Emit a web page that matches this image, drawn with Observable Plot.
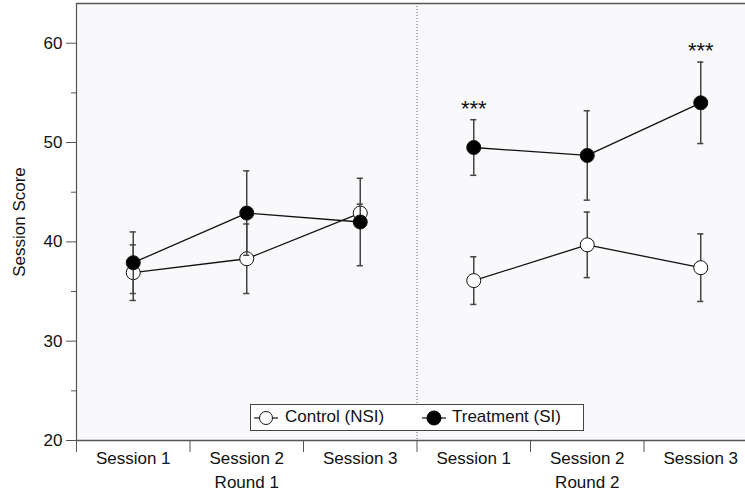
<!DOCTYPE html>
<html><head><meta charset="utf-8">
<script src="https://cdn.jsdelivr.net/npm/d3@7"></script>
<script src="https://cdn.jsdelivr.net/npm/@observablehq/plot@0.6"></script>
<style>
body{margin:0;background:#fff;font-family:"Liberation Sans",Arial,sans-serif;}
#wrap{position:relative;width:745px;height:498px;overflow:hidden;}
#legend{position:absolute;left:250px;top:404px;width:332px;height:25px;border:1px solid #444;background:#fff;font-size:17px;color:#111;}
#legend .sym{position:absolute;top:4px;}
#legend .lab{position:absolute;top:2px;line-height:20px;white-space:nowrap;}
</style></head><body>
<div id="wrap"><div id="chart"></div>
<div id="legend">
  <svg class="sym" style="left:3px" width="24" height="18"><line x1="0" y1="9" x2="24" y2="9" stroke="#111" stroke-width="1.2"/><circle cx="12" cy="9" r="6.5" fill="#fff" stroke="#111" stroke-width="1"/></svg>
  <span class="lab" style="left:34px">Control (NSI)</span>
  <svg class="sym" style="left:171px" width="24" height="18"><line x1="0" y1="9" x2="24" y2="9" stroke="#111" stroke-width="1.2"/><circle cx="12" cy="9" r="7" fill="#000" stroke="#000" stroke-width="1"/></svg>
  <span class="lab" style="left:201px">Treatment (SI)</span>
</div></div>
<script>
const sessions = ["Session 1","Session 2","Session 3","Session 1","Session 2","Session 3"];
const rounds = ["Round 1","Round 2"];
const controlMean = [36.9, 38.3, 42.9, 36.1, 39.7, 37.4];
const controlErr  = [2.8, 3.5, 0.9, 2.4, 3.3, 3.4];
const treatMean   = [37.9, 42.9, 42.0, 49.5, 48.7, 54.0];
const treatErr    = [3.1, 4.25, 4.4, 2.8, 4.5, 4.1];
const significance = ["", "", "", "***", "", "***"];
const yTicks = [20, 30, 40, 50, 60];
const yMinor = [25, 35, 45, 55];

const rows = sessions.map((s, i) => ({
  pos: i + 0.5, round: rounds[Math.floor(i / 3)],
  c: controlMean[i], ce: controlErr[i], t: treatMean[i], te: treatErr[i], sig: significance[i]
}));
const cap = 0.027;
const axisCol = "#555";
const errCol = "#444";

function series(m, e, fill) {
  return [
    Plot.ruleX(rows, {x: "pos", y1: d => d[m] - d[e], y2: d => d[m] + d[e], stroke: errCol, strokeWidth: 1.5}),
    Plot.ruleY(rows, {y: d => d[m] - d[e], x1: d => d.pos - cap, x2: d => d.pos + cap, stroke: errCol, strokeWidth: 1.5}),
    Plot.ruleY(rows, {y: d => d[m] + d[e], x1: d => d.pos - cap, x2: d => d.pos + cap, stroke: errCol, strokeWidth: 1.5}),
    Plot.line(rows, {x: "pos", y: m, z: "round", stroke: "#111", strokeWidth: 1.3}),
    Plot.dot(rows, {x: "pos", y: m, r: 7, fill, stroke: "#111", strokeWidth: 1})
  ];
}

const chart = Plot.plot({
  width: 745, height: 498,
  marginLeft: 76, marginRight: 0, marginTop: 3, marginBottom: 58,
  x: {domain: [0, 6], range: [76, 757]},
  y: {domain: [20, 64]},
  style: {fontFamily: "'Liberation Sans', Arial, sans-serif", fontSize: "17px", color: "#111", background: "transparent"},
  marks: [
    Plot.frame({fill: "#f9f8fb", stroke: null}),
    Plot.ruleX([3], {stroke: "#666", strokeWidth: 1, strokeDasharray: "1,2"}),
    ...series("c", "ce", "#fff"),
    ...series("t", "te", "#000"),
    Plot.text(rows, {x: "pos", y: d => d.t + d.te, text: "sig", lineAnchor: "bottom", dy: -4, fontSize: 22, letterSpacing: 0}),
    Plot.ruleY([64], {stroke: axisCol, strokeWidth: 1.5}),
    Plot.ruleY([20], {stroke: axisCol, strokeWidth: 1.5}),
    Plot.ruleX([0], {stroke: axisCol, strokeWidth: 1.2}),
    Plot.axisY({ticks: yTicks, tickSize: 10, tickPadding: 4, label: null, stroke: axisCol, fontSize: 17}),
    Plot.axisY({ticks: yMinor, tickSize: 5, tickFormat: () => "", label: null, stroke: axisCol}),
    Plot.axisX({ticks: [0, 1, 2, 3, 4, 5, 6], tickSize: 12, tickFormat: () => "", label: null, stroke: axisCol}),
    Plot.text(sessions, {x: (d, i) => i + 0.5, frameAnchor: "bottom", dy: 23, text: d => d, fontSize: 17}),
    Plot.text(rounds, {x: (d, i) => i * 3 + 1.5, frameAnchor: "bottom", dy: 47, text: d => d, fontSize: 17}),
    Plot.text(["Session Score"], {frameAnchor: "left", textAnchor: "middle", dx: -57, rotate: -90, text: d => d, fontSize: 17})
  ]
});
document.getElementById("chart").appendChild(chart);
</script>
</body></html>
